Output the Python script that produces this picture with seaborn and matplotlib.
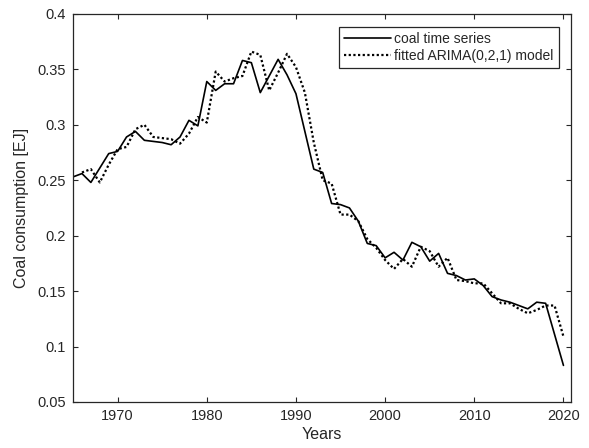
import numpy as np
import pandas as pd
import matplotlib
matplotlib.use("Agg")
import matplotlib.pyplot as plt
from matplotlib.ticker import FuncFormatter
import seaborn as sns

years = list(range(1965, 2021))
coal = [0.253, 0.256, 0.248, 0.261, 0.274, 0.276, 0.289, 0.294, 0.286, 0.285,
        0.284, 0.282, 0.289, 0.304, 0.299, 0.339, 0.331, 0.337, 0.337, 0.358,
        0.356, 0.329, 0.344, 0.359, 0.345, 0.328, 0.294, 0.260, 0.257, 0.229,
        0.228, 0.225, 0.213, 0.193, 0.191, 0.180, 0.185, 0.178, 0.194, 0.190,
        0.177, 0.184, 0.166, 0.164, 0.160, 0.161, 0.155, 0.145, 0.142, 0.140,
        0.137, 0.134, 0.140, 0.139, 0.111, 0.083]

fitted_years = list(range(1966, 2021))
fitted = [0.257, 0.260, 0.248, 0.264, 0.278, 0.280, 0.296, 0.300, 0.289,
          0.288, 0.287, 0.283, 0.292, 0.307, 0.302, 0.348, 0.339, 0.342, 0.344,
          0.366, 0.363, 0.331, 0.347, 0.364, 0.352, 0.329, 0.284, 0.250, 0.247,
          0.219, 0.219, 0.213, 0.197, 0.189, 0.178, 0.170, 0.179, 0.172, 0.190,
          0.186, 0.172, 0.180, 0.160, 0.159, 0.157, 0.157, 0.148, 0.139, 0.139,
          0.134, 0.130, 0.133, 0.137, 0.137, 0.109]

y_ticks = [0.05, 0.1, 0.15, 0.2, 0.25, 0.3, 0.35, 0.4]
x_ticks = [1970, 1980, 1990, 2000, 2010, 2020]

sns.set_style("white")
plt.rcParams["font.family"] = ["Liberation Sans", "DejaVu Sans"]

dark = "#262626"
fig = plt.figure(figsize=(5.89, 4.48), dpi=100)
ax = fig.add_axes([0.124, 0.1027, 0.8455, 0.8663])

obs = pd.DataFrame({"year": years, "value": coal})
fit = pd.DataFrame({"year": fitted_years, "value": fitted})

sns.lineplot(data=obs, x="year", y="value", ax=ax, color="black",
             linewidth=1.2, label="coal time series")
sns.lineplot(data=fit, x="year", y="value", ax=ax, color="black",
             linewidth=1.6, linestyle=(0, (1, 1.1)),
             label="fitted ARIMA(0,2,1) model")

ax.set_xlim(1965, 2020.85)
ax.set_ylim(0.05, 0.4)
ax.set_xticks(x_ticks)
ax.set_yticks(y_ticks)
ax.yaxis.set_major_formatter(FuncFormatter(lambda v, p: f"{v:g}"))

for side in ["left", "right", "top", "bottom"]:
    ax.spines[side].set_visible(True)
    ax.spines[side].set_color(dark)
    ax.spines[side].set_linewidth(0.9)

ax.tick_params(direction="in", length=3.5, width=0.8, colors=dark,
               labelsize=10.5, top=True, right=True, bottom=True, left=True,
               pad=5)

ax.set_xlabel("Years", fontsize=11.5, color=dark, labelpad=3)
ax.set_ylabel("Coal consumption [EJ]", fontsize=11.5, color=dark, labelpad=6)

leg = ax.legend(loc="upper right", bbox_to_anchor=(0.975, 0.967),
                fontsize=10, frameon=True, fancybox=False, handlelength=3.4,
                handletextpad=0.25, borderpad=0.35, labelspacing=0.25,
                borderaxespad=0)
leg.get_frame().set_edgecolor(dark)
leg.get_frame().set_linewidth(0.9)
leg.get_frame().set_alpha(1)

fig.savefig("out.png", dpi=100)
